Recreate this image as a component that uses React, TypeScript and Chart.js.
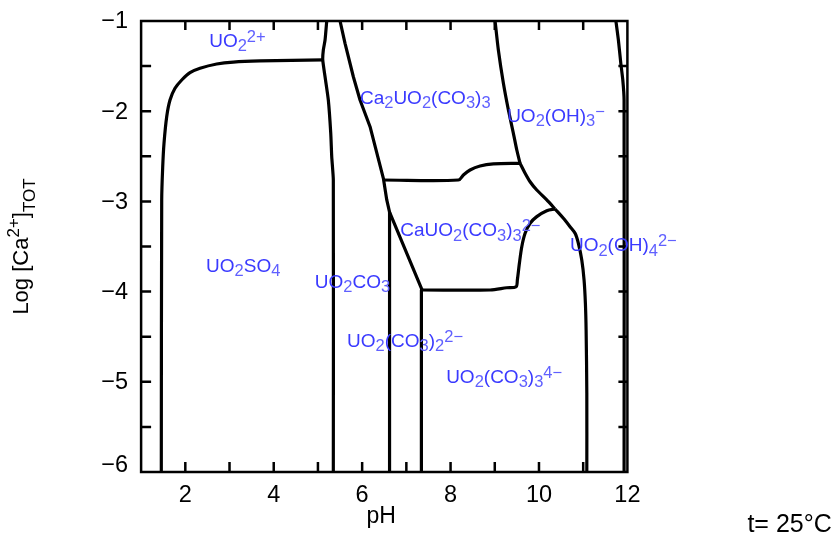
import React, { useEffect, useRef } from 'react';
import { Chart, registerables } from 'chart.js';

Chart.register(...registerables);

// ---- axes ----
const xTickLabels = [2, 4, 6, 8, 10, 12];
const yTickLabels = [-6, -5, -4, -3, -2, -1];
const xMinorTicks = [2, 3, 4, 5, 6, 7, 8, 9, 10, 11];
const yMinorTicks = [-5.5, -5, -4.5, -4, -3.5, -3, -2.5, -2, -1.5];

// ---- predominance boundaries (pH, log[Ca2+]TOT) ----
const sulfateEdgePH = [1.457, 1.466, 1.489, 1.518, 1.579, 1.654, 1.767, 1.919, 2.106, 2.333, 2.71, 3.086, 3.69, 5.122];
const sulfateEdgeLogCa = [-6, -2.984, -2.615, -2.356, -2.061, -1.876, -1.746, -1.654, -1.573, -1.524, -1.477, -1.455, -1.443, -1.432];

const carbonateEdgePH = [5.199, 5.161, 5.122, 5.109, 5.161, 5.235, 5.29, 5.312, 5.348, 5.348];
const carbonateEdgeLogCa = [-1, -1.211, -1.322, -1.432, -1.618, -1.876, -2.245, -2.504, -2.763, -6];

const ca2EdgePH = [5.5, 5.613, 5.801, 5.952, 6.179, 6.48, 6.557, 6.62, 7.355];
const ca2EdgeLogCa = [-1, -1.247, -1.618, -1.876, -2.172, -2.744, -2.984, -3.118, -3.982];

const dicarbEdgePH = [6.62, 6.62];
const dicarbEdgeLogCa = [-3.118, -6];

const tricarbEdgePH = [7.34, 7.34];
const tricarbEdgeLogCa = [-3.982, -6];

const caMonoTopPH = [6.48, 8.177, 8.29, 8.441, 8.667, 8.968, 9.572];
const caMonoTopLogCa = [-2.763, -2.763, -2.707, -2.652, -2.608, -2.585, -2.578];

const hydroxoTopPH = [9.007, 9.081, 9.195, 9.308, 9.421, 9.498, 9.572];
const hydroxoTopLogCa = [-1, -1.322, -1.691, -1.987, -2.245, -2.43, -2.578];

const hydroxoMidPH = [9.572, 9.686, 9.799, 9.95, 10.176, 10.364];
const hydroxoMidLogCa = [-2.578, -2.688, -2.782, -2.874, -2.984, -3.084];

const hydroxo4EdgePH = [10.364, 10.552, 10.703, 10.817, 10.891, 10.968, 11.02, 11.05, 11.066, 11.082, 11.082];
const hydroxo4EdgeLogCa = [-3.084, -3.187, -3.28, -3.354, -3.465, -3.65, -3.872, -4.13, -4.426, -5.125, -6];

const caMonoArcPH = [10.364, 10.176, 9.95, 9.799, 9.686, 9.611, 9.557, 9.511, 9.482, 9.271, 8.894, 7.355];
const caMonoArcLogCa = [-3.084, -3.103, -3.169, -3.243, -3.354, -3.502, -3.686, -3.871, -3.946, -3.957, -3.982, -3.982];

const farRightPH = [11.74, 11.796, 11.851, 11.896, 11.925, 11.925];
const farRightLogCa = [-1, -1.211, -1.469, -1.654, -1.876, -6];

const boundaries = [
  { ph: sulfateEdgePH, logCa: sulfateEdgeLogCa, tension: 0.3 },
  { ph: carbonateEdgePH, logCa: carbonateEdgeLogCa, tension: 0.2 },
  { ph: ca2EdgePH, logCa: ca2EdgeLogCa, tension: 0 },
  { ph: dicarbEdgePH, logCa: dicarbEdgeLogCa, tension: 0 },
  { ph: tricarbEdgePH, logCa: tricarbEdgeLogCa, tension: 0 },
  { ph: caMonoTopPH, logCa: caMonoTopLogCa, tension: 0.3 },
  { ph: hydroxoTopPH, logCa: hydroxoTopLogCa, tension: 0.2 },
  { ph: hydroxoMidPH, logCa: hydroxoMidLogCa, tension: 0.2 },
  { ph: hydroxo4EdgePH, logCa: hydroxo4EdgeLogCa, tension: 0.3 },
  { ph: caMonoArcPH, logCa: caMonoArcLogCa, tension: 0.3 },
  { ph: farRightPH, logCa: farRightLogCa, tension: 0.2 },
];

// ---- species labels (left edge / baseline in data coords) ----
const speciesLabels = [
  'UO_{2}^{2+}',
  'Ca_{2}UO_{2}(CO_{3})_{3}',
  'UO_{2}(OH)_{3}^{−}',
  'CaUO_{2}(CO_{3})_{3}^{2−}',
  'UO_{2}(OH)_{4}^{2−}',
  'UO_{2}SO_{4}',
  'UO_{2}CO_{3}',
  'UO_{2}(CO_{3})_{2}^{2−}',
  'UO_{2}(CO_{3})_{3}^{4−}',
];
const speciesPH = [2.54, 5.95, 9.28, 6.86, 10.7, 2.47, 4.93, 5.66, 7.9];
const speciesLogCa = [-1.285, -1.92, -2.116, -3.384, -3.55, -3.779, -3.96, -4.611, -5.012];

const xTitle = 'pH';
const yTitle = 'Log [Ca^{2+}]_{TOT}';
const noteText = 't= 25°C';

const FAMILY = '"Liberation Sans", Arial, Helvetica, sans-serif';

type Seg = { t: string; m: 'n' | 'sub' | 'sup' };
function parseRich(s: string): Seg[] {
  const out: Seg[] = [];
  let buf = '';
  let i = 0;
  while (i < s.length) {
    const c = s[i];
    if ((c === '_' || c === '^') && s[i + 1] === '{') {
      if (buf) { out.push({ t: buf, m: 'n' }); buf = ''; }
      const end = s.indexOf('}', i + 2);
      out.push({ t: s.slice(i + 2, end), m: c === '_' ? 'sub' : 'sup' });
      i = end + 1;
    } else {
      buf += c;
      i++;
    }
  }
  if (buf) out.push({ t: buf, m: 'n' });
  return out;
}

type RichOpts = { size: number; small: number; subDy: number; supDy: number; color: string; smallColor: string };
function richWidth(ctx: CanvasRenderingContext2D, s: string, o: RichOpts) {
  let w = 0;
  for (const seg of parseRich(s)) {
    ctx.font = `${seg.m === 'n' ? o.size : o.small}px ${FAMILY}`;
    w += ctx.measureText(seg.t).width;
  }
  return w;
}
function drawRich(ctx: CanvasRenderingContext2D, s: string, x: number, y: number, o: RichOpts) {
  ctx.textAlign = 'left';
  ctx.textBaseline = 'alphabetic';
  let cx = x;
  for (const seg of parseRich(s)) {
    ctx.font = `${seg.m === 'n' ? o.size : o.small}px ${FAMILY}`;
    ctx.fillStyle = seg.m === 'n' ? o.color : o.smallColor;
    const dy = seg.m === 'sub' ? o.subDy : seg.m === 'sup' ? o.supDy : 0;
    ctx.fillText(seg.t, cx, y + dy);
    cx += ctx.measureText(seg.t).width;
  }
}

const decorPlugin = {
  id: 'decor',
  afterDraw(chart: any) {
    const ctx: CanvasRenderingContext2D = chart.ctx;
    const { left, right, top, bottom } = chart.chartArea;
    const xs = chart.scales.x;
    const ys = chart.scales.y;
    ctx.save();
    // frame
    ctx.strokeStyle = '#000';
    ctx.lineWidth = 2.5;
    ctx.strokeRect(left, top, right - left, bottom - top);
    // inner ticks
    ctx.beginPath();
    for (const v of xMinorTicks) {
      const px = xs.getPixelForValue(v);
      ctx.moveTo(px, bottom);
      ctx.lineTo(px, bottom - 10);
      ctx.moveTo(px, top);
      ctx.lineTo(px, top + 9);
    }
    for (const v of yMinorTicks) {
      const py = ys.getPixelForValue(v);
      ctx.moveTo(left, py);
      ctx.lineTo(left + 10, py);
      ctx.moveTo(right, py);
      ctx.lineTo(right - 9, py);
    }
    ctx.stroke();

    // y tick labels (lowest one lifted off the frame corner, as in the original)
    ctx.fillStyle = '#000';
    ctx.font = `23.5px ${FAMILY}`;
    ctx.textAlign = 'right';
    ctx.textBaseline = 'middle';
    yTickLabels.forEach((v, i) => {
      const py = ys.getPixelForValue(v) - (i === 0 ? 7 : 0);
      ctx.fillText(v < 0 ? '−' + Math.abs(v) : String(v), left - 13, py + 1);
    });

    // species labels
    const lab: RichOpts = { size: 19, small: 16.5, subDy: 4.5, supDy: -5, color: '#3a3aff', smallColor: '#6060ff' };
    speciesLabels.forEach((s, i) => {
      drawRich(ctx, s, xs.getPixelForValue(speciesPH[i]), ys.getPixelForValue(speciesLogCa[i]), lab);
    });

    // axis titles
    const tt: RichOpts = { size: 22, small: 17, subDy: 7, supDy: -9, color: '#000', smallColor: '#000' };
    const xt: RichOpts = { ...tt, size: 23 };
    const xw = richWidth(ctx, xTitle, xt);
    drawRich(ctx, xTitle, (left + right) / 2 - xw / 2 - 3, bottom + 51, xt);

    const yw = richWidth(ctx, yTitle, tt);
    ctx.save();
    ctx.translate(left - 113, (top + bottom) / 2 + yw / 2);
    ctx.rotate(-Math.PI / 2);
    drawRich(ctx, yTitle, 0, 0, tt);
    ctx.restore();

    // note
    drawRich(ctx, noteText, right + 120, bottom + 60, { ...tt, size: 25 });
    ctx.restore();
  },
};

export default function App() {
  const ref = useRef<HTMLCanvasElement | null>(null);
  useEffect(() => {
    if (!ref.current) return;
    const chart = new Chart(ref.current, {
      type: 'scatter',
      data: {
        datasets: boundaries.map((b) => ({
          data: b.ph.map((x, i) => ({ x, y: b.logCa[i] })),
          showLine: true,
          borderColor: '#000',
          borderWidth: 3.2,
          pointRadius: 0,
          tension: b.tension,
          borderJoinStyle: 'round' as const,
          borderCapStyle: 'butt' as const,
        })),
      },
      options: {
        animation: false,
        responsive: false,
        devicePixelRatio: 1,
        layout: { padding: { left: 0, top: 21, right: 208.6, bottom: 0 } },
        plugins: { legend: { display: false }, tooltip: { enabled: false }, title: { display: false } },
        scales: {
          x: {
            type: 'linear',
            min: 1,
            max: 12,
            grid: { display: false, drawTicks: false },
            border: { display: false },
            afterBuildTicks: (s: any) => { s.ticks = xTickLabels.map((v) => ({ value: v })); },
            afterFit: (s: any) => { s.height = 73; },
            ticks: {
              padding: 9,
              color: '#000',
              font: { family: FAMILY, size: 23.5 },
              maxRotation: 0,
              callback: (v: any) => String(v),
            },
          },
          y: {
            type: 'linear',
            min: -6,
            max: -1,
            grid: { display: false, drawTicks: false },
            border: { display: false },
            afterBuildTicks: (s: any) => { s.ticks = yTickLabels.map((v) => ({ value: v })); },
            afterFit: (s: any) => { s.width = 141.1; },
            ticks: { display: false },
          },
        },
      },
      plugins: [decorPlugin],
    });
    return () => chart.destroy();
  }, []);
  return (
    <div style={{ position: 'fixed', left: 0, top: 0, width: 836, height: 545, background: '#fff' }}>
      <canvas ref={ref} width={836} height={545} style={{ width: 836, height: 545, display: 'block' }} />
    </div>
  );
}
